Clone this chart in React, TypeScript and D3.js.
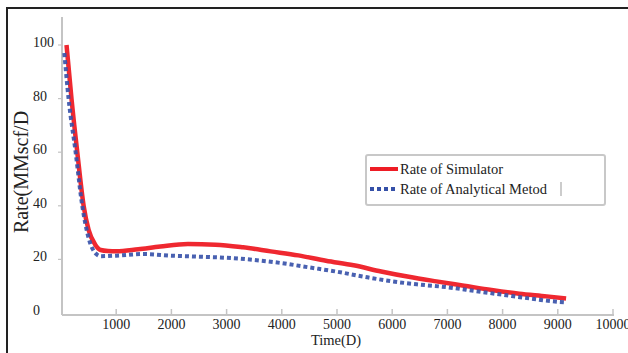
import * as d3 from "d3";
import React, { useRef, useEffect } from "react";

// time in days / rate in MMscf/D
const simDays = [100, 190, 295, 410, 500, 620, 720, 850, 1000, 1400, 1800, 2300, 2800, 3300, 3800, 4300, 4800, 5300, 5800, 6300, 6800, 7300, 7800, 8300, 8800, 9150];
const simRate = [100, 80, 60, 40, 31, 25.5, 23.5, 23.1, 23, 23.8, 24.8, 25.7, 25.5, 24.5, 23, 21.5, 19.5, 17.8, 15.5, 13.5, 11.8, 10.2, 8.6, 7.2, 6.2, 5.4];

const anaDays = [60, 137, 265, 385, 500, 640, 720, 1000, 1500, 2000, 2500, 3000, 3500, 4000, 4500, 5000, 5500, 6000, 6500, 7000, 7500, 8000, 8500, 9000, 9150];
const anaRate = [97, 80, 60, 40, 28, 22, 21.2, 21.4, 22, 21.4, 21, 20.6, 19.8, 18.6, 17, 15.4, 13.5, 11.8, 10.6, 9.6, 8.2, 6.8, 5.4, 4.2, 4];

const xTicks = [1000, 2000, 3000, 4000, 5000, 6000, 7000, 8000, 9000, 10000];
const yTicks = [0, 20, 40, 60, 80, 100];
const seriesNames = ["Rate of Simulator", "Rate of Analytical Metod"];

function App() {
  const svgRef = useRef(null);

  useEffect(() => {
    const w = 628;
    const h = 353;
    const font = "'Liberation Serif', 'Times New Roman', serif";
    const svg = d3.select(svgRef.current);
    svg.selectAll("*").remove();

    // outer frame (top and left only)
    svg.append("path")
      .attr("d", `M7,${h} L7,8 L${w},8`)
      .attr("fill", "none")
      .attr("stroke", "#222")
      .attr("stroke-width", 2);

    const x = d3.scaleLinear().domain([0, 10000]).range([61, 613]);
    const y = d3.scaleLinear().domain([0, 100]).range([313, 45]);

    const axisColor = "#c4c4c4";

    // y axis line
    svg.append("line")
      .attr("x1", 62).attr("x2", 62)
      .attr("y1", 17).attr("y2", 315)
      .attr("stroke", axisColor).attr("stroke-width", 2);
    // x axis line
    svg.append("line")
      .attr("x1", 62).attr("x2", x(10000) + 1)
      .attr("y1", 315).attr("y2", 315)
      .attr("stroke", axisColor).attr("stroke-width", 2);

    // x ticks, pointing up
    svg.append("g").selectAll("line")
      .data(xTicks)
      .join("line")
        .attr("x1", d => x(d)).attr("x2", d => x(d))
        .attr("y1", 315).attr("y2", 309)
        .attr("stroke", axisColor).attr("stroke-width", 1.5);

    svg.append("g").selectAll("text")
      .data(xTicks)
      .join("text")
        .attr("x", d => x(d))
        .attr("y", 329)
        .attr("text-anchor", "middle")
        .style("font-family", font)
        .style("font-size", "14px")
        .attr("fill", "#222")
        .text(d => d);

    // y ticks, short marks left of the axis
    svg.append("g").selectAll("line")
      .data(yTicks.filter(d => d > 0))
      .join("line")
        .attr("x1", 58).attr("x2", 62)
        .attr("y1", d => y(d)).attr("y2", d => y(d))
        .attr("stroke", axisColor).attr("stroke-width", 1.2);

    svg.append("g").selectAll("text")
      .data(yTicks)
      .join("text")
        .attr("x", 33)
        .attr("y", d => y(d) + 2)
        .style("font-family", font)
        .style("font-size", "14px")
        .attr("fill", "#222")
        .text(d => d);

    // axis titles
    svg.append("text")
      .attr("transform", "translate(28,172) rotate(-90)")
      .attr("text-anchor", "middle")
      .style("font-family", font)
      .style("font-size", "20px")
      .attr("fill", "#222")
      .text("Rate(MMscf/D");

    svg.append("text")
      .attr("x", 336)
      .attr("y", 345)
      .attr("text-anchor", "middle")
      .style("font-family", font)
      .style("font-size", "14.5px")
      .attr("fill", "#222")
      .text("Time(D)");

    const line = d3.line()
      .x(d => x(d[0]))
      .y(d => y(d[1]))
      .curve(d3.curveMonotoneX);

    const simData = simDays.map((d, i) => [d, simRate[i]]);
    const anaData = anaDays.map((d, i) => [d, anaRate[i]]);

    svg.append("path")
      .attr("d", line(simData))
      .attr("fill", "none")
      .attr("stroke", "#ee1c25")
      .attr("stroke-width", 4.5)
      .attr("stroke-linejoin", "round")
      .attr("opacity", 0.95);

    svg.append("path")
      .attr("d", line(anaData))
      .attr("fill", "none")
      .attr("stroke", "#3550a8")
      .attr("stroke-width", 4)
      .attr("stroke-dasharray", "4 3")
      .attr("opacity", 0.9);

    // legend
    const lg = svg.append("g");
    lg.append("rect")
      .attr("x", 366).attr("y", 155)
      .attr("width", 239).attr("height", 50)
      .attr("rx", 2)
      .attr("fill", "#fff")
      .attr("stroke", "#c8c8c8")
      .attr("stroke-width", 2);

    const items = [
      { name: seriesNames[0], color: "#ee1c25", dash: null, width: 4 },
      { name: seriesNames[1], color: "#3550a8", dash: "4 3", width: 4 },
    ];
    items.forEach((it, i) => {
      const cy = 169 + i * 20;
      lg.append("line")
        .attr("x1", 370).attr("x2", 398)
        .attr("y1", cy).attr("y2", cy)
        .attr("stroke", it.color)
        .attr("stroke-width", it.width)
        .attr("stroke-dasharray", it.dash);
      lg.append("text")
        .attr("x", 400)
        .attr("y", cy + 5)
        .style("font-family", font)
        .style("font-size", "14.5px")
        .attr("fill", "#222")
        .text(it.name);
    });
    lg.append("line")
      .attr("x1", 561).attr("x2", 561)
      .attr("y1", 182).attr("y2", 196)
      .attr("stroke", "#999")
      .attr("stroke-width", 1);
  }, []);

  return (
    <div>
      <svg ref={svgRef} width={628} height={353} style={{ position: "absolute", left: 0, top: 0, background: "#fff" }}></svg>
    </div>
  );
}

export default App;
